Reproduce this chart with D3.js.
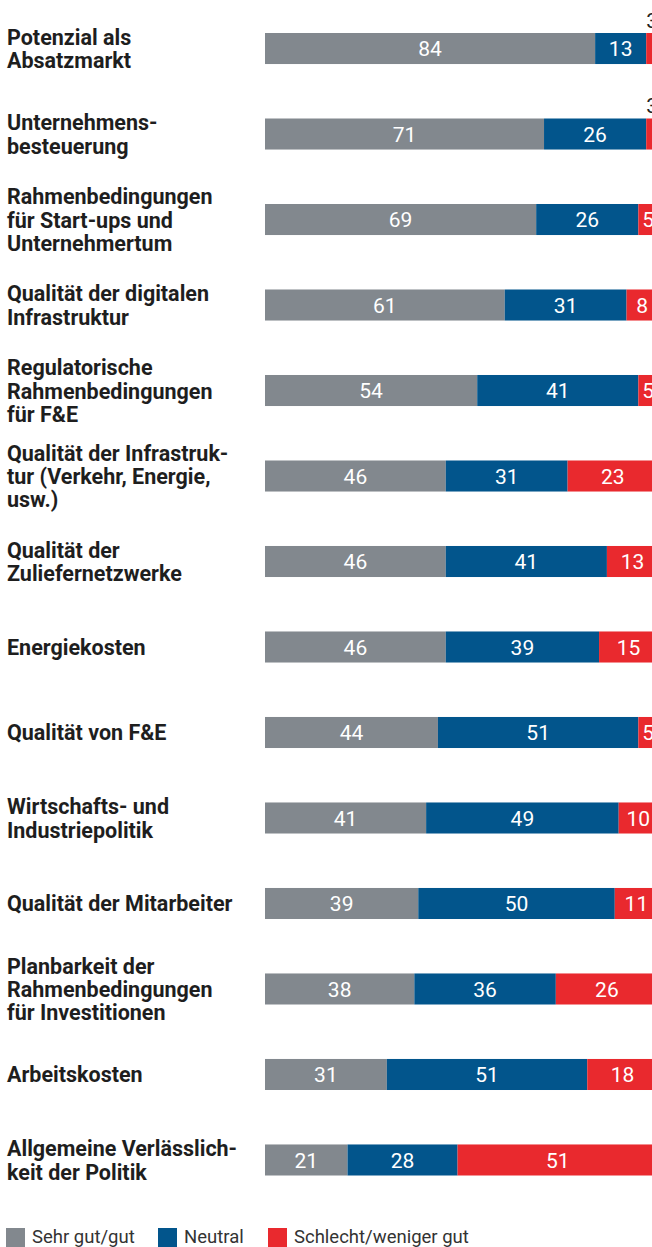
<!DOCTYPE html>
<html><head><meta charset="utf-8">
<script src="https://cdn.jsdelivr.net/npm/d3@7"></script>
<style>
html,body{margin:0;padding:0;background:#fff;overflow:hidden}
svg{display:block}
</style></head>
<body>
<svg id="chart" width="652" height="1247"></svg>
<script>
const categories = [
  "Potenzial als|Absatzmarkt",
  "Unternehmens-|besteuerung",
  "Rahmenbedingungen|für Start-ups und|Unternehmertum",
  "Qualität der digitalen|Infrastruktur",
  "Regulatorische|Rahmenbedingungen|für F&E",
  "Qualität der Infrastruk-|tur (Verkehr, Energie,|usw.)",
  "Qualität der|Zuliefernetzwerke",
  "Energiekosten",
  "Qualität von F&E",
  "Wirtschafts- und|Industriepolitik",
  "Qualität der Mitarbeiter",
  "Planbarkeit der|Rahmenbedingungen|für Investitionen",
  "Arbeitskosten",
  "Allgemeine Verlässlich-|keit der Politik"
];
const sehrGut = [84, 71, 69, 61, 54, 46, 46, 46, 44, 41, 39, 38, 31, 21];
const neutral = [13, 26, 26, 31, 41, 31, 41, 39, 51, 49, 50, 36, 51, 28];
const schlecht = [3, 3, 5, 8, 5, 23, 13, 15, 5, 10, 11, 26, 18, 51];
const seriesNames = ["Sehr gut/gut", "Neutral", "Schlecht/weniger gut"];
const colors = ["#82888e", "#02558c", "#e9292e"];

const svg = d3.select("#chart");
const x = d3.scaleLinear().domain([0, 100]).range([265, 658]);
const y = d3.scaleBand().domain(d3.range(categories.length)).range([33, 1175.5]).paddingInner(0.637).paddingOuter(0);

const rows = categories.map((c, i) => ({cat: c, vals: [sehrGut[i], neutral[i], schlecht[i]]}));
const stackData = rows.map(r => ({a: r.vals[0], b: r.vals[1], c: r.vals[2]}));
const stack = d3.stack().keys(["a", "b", "c"])(stackData);

const labelFont = "Roboto, 'Noto Sans', sans-serif";

// bars
stack.forEach((layer, k) => {
  const g = svg.append("g");
  g.selectAll("rect").data(layer).join("rect")
    .attr("x", d => x(d[0]))
    .attr("y", (d, i) => y(i))
    .attr("width", d => x(d[1]) - x(d[0]))
    .attr("height", y.bandwidth())
    .attr("fill", colors[k]);
  g.selectAll("text").data(layer).join("text")
    .attr("x", d => (x(d[0]) + x(d[1])) / 2)
    .attr("y", (d, i) => (d[1] - d[0]) < 4 ? y(i) - 5 : y(i) + y.bandwidth() / 2)
    .attr("dy", d => (d[1] - d[0]) < 4 ? 0 : "0.36em")
    .attr("text-anchor", "middle")
    .attr("font-family", labelFont)
    .attr("font-size", 21)
    .attr("fill", d => (d[1] - d[0]) < 4 ? "#222" : "#fff")
    .text(d => d[1] - d[0]);
});

// category labels
const lh = 23.3;
const lab = svg.append("g");
rows.forEach((r, i) => {
  const lines = r.cat.split("|");
  const cy = y(i) + y.bandwidth() / 2;
  const t = lab.append("text")
    .attr("font-family", labelFont)
    .attr("font-weight", 700)
    .attr("font-size", 21.5)
    .attr("fill", "#1e1e1e");
  lines.forEach((ln, j) => {
    t.append("tspan")
      .attr("x", 7)
      .attr("y", cy - (lines.length - 1) * lh / 2 + j * lh + 8)
      .text(ln);
  });
});

// legend
const legX = [6, 158, 268];
const leg = svg.append("g");
seriesNames.forEach((n, k) => {
  leg.append("rect").attr("x", legX[k]).attr("y", 1228).attr("width", 19).attr("height", 19).attr("fill", colors[k]);
  leg.append("text").attr("x", legX[k] + 26).attr("y", 1243)
    .attr("font-family", labelFont).attr("font-size", 18.5).attr("fill", "#333").text(n);
});
</script>
</body></html>
